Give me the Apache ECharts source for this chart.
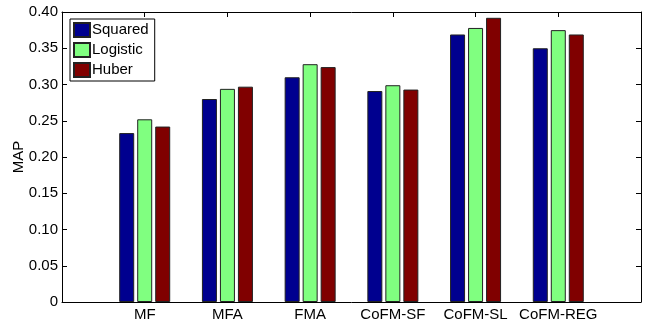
<!DOCTYPE html>
<html><head><meta charset="utf-8">
<script src="https://cdn.jsdelivr.net/npm/echarts@6/dist/echarts.min.js"></script>
<style>html,body{margin:0;padding:0;background:#fff}#c{width:646px;height:320px}</style>
</head><body><div id="c"></div>
<script>
var categories = ['MF','MFA','FMA','CoFM-SF','CoFM-SL','CoFM-REG'];
var squared  = [0.233, 0.280, 0.310, 0.291, 0.369, 0.350];
var logistic = [0.252, 0.294, 0.328, 0.299, 0.378, 0.375];
var huber    = [0.242, 0.297, 0.324, 0.293, 0.392, 0.369];
var yTicks = [0, 0.05, 0.10, 0.15, 0.20, 0.25, 0.30, 0.35, 0.40];

var axisCats = [''].concat(categories).concat(['']);
function pad(a){ return ['-'].concat(a).concat(['-']); }
var font = 'Liberation Sans, Arial, sans-serif';
var chart = echarts.init(document.getElementById('c'));
function bar(name, data, color){
  return {name:name, type:'bar', data:pad(data), barWidth:15, barGap:'20%',
    itemStyle:{color:color, borderColor:'#222', borderWidth:1}};
}
chart.setOption({
  animation:false,
  grid:{left:62, right:5, top:12, bottom:18, containLabel:false, outerBoundsMode:'none'},
  legend:{orient:'vertical', left:70, top:19, itemWidth:16, itemHeight:14, itemGap:4, icon:'rect',
    padding:[3,6,3,3], borderColor:'#000', borderWidth:1, backgroundColor:'#fff',
    textStyle:{fontFamily:font, fontSize:15, color:'#000', padding:[0,0,0,-3]},
    data:['Squared','Logistic','Huber']},
  xAxis:[
    {type:'category', data:axisCats, boundaryGap:false, position:'bottom',
     axisLine:{lineStyle:{color:'#000'}}, axisTick:{show:false},
     axisLabel:{interval:0, fontFamily:font, fontSize:15, color:'#000', margin:5}},
    {type:'category', data:axisCats, boundaryGap:false, position:'top',
     axisLine:{onZero:false, lineStyle:{color:'#000'}}, axisTick:{inside:true, length:5, lineStyle:{color:'#000'}},
     axisLabel:{show:false}}
  ],
  yAxis:[
    {type:'value', min:0, max:0.4, interval:0.05, name:'MAP', nameLocation:'middle', nameGap:36, nameMoveOverlap:false,
     nameTextStyle:{fontFamily:font, fontSize:15, color:'#000'},
     axisLine:{show:true, lineStyle:{color:'#000'}}, axisTick:{show:true, inside:true, length:5, lineStyle:{color:'#000'}},
     splitLine:{show:false},
     axisLabel:{fontFamily:font, fontSize:15, color:'#000', margin:4,
       formatter:function(v){ var t = yTicks.find(function(x){return Math.abs(x-v)<1e-9;}); return t===0?'0':(t!==undefined?t.toFixed(2):''); }}},
    {type:'value', min:0, max:0.4, interval:0.05, position:'right',
     axisLine:{show:true, lineStyle:{color:'#000'}}, axisTick:{show:true, inside:true, length:5, lineStyle:{color:'#000'}},
     splitLine:{show:false}, axisLabel:{show:false}}
  ],
  series:[
    bar('Squared', squared, '#00008f'),
    bar('Logistic', logistic, '#80ff80'),
    bar('Huber', huber, '#800000')
  ]
});
</script></body></html>
